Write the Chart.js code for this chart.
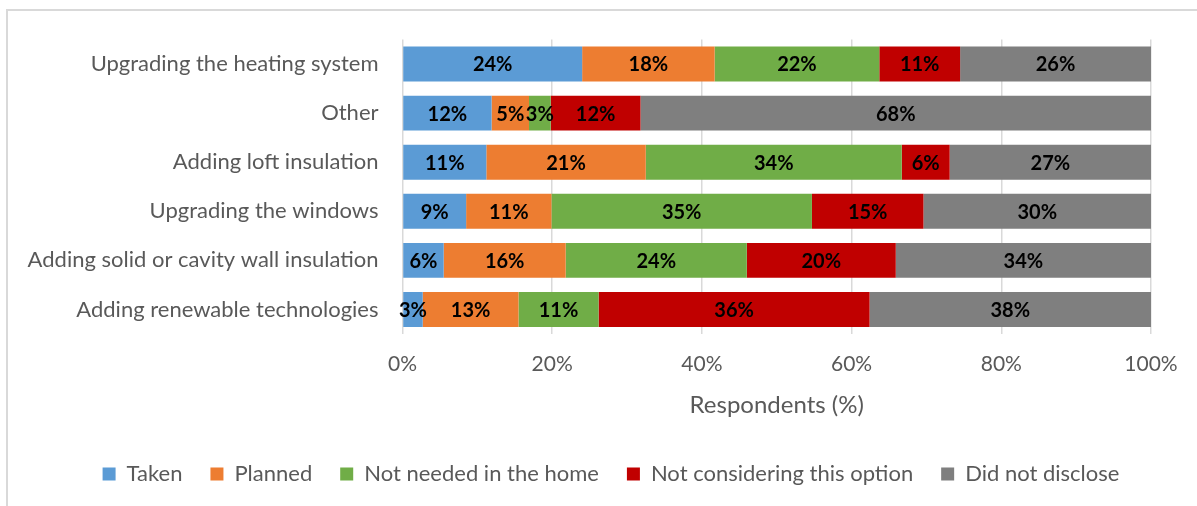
<!DOCTYPE html>
<html>
<head>
<meta charset="utf-8">
<title>Energy efficiency measures</title>
<script src="https://cdn.jsdelivr.net/npm/chart.js@4.4.0/dist/chart.umd.min.js"></script>
<style>
    html, body { margin: 0; padding: 0; background: #fff; }
    #wrap { position: relative; width: 1197px; height: 506px; }
</style>
</head>
<body>
<div id="wrap"><canvas id="measuresChart"></canvas></div>
<script>
// Measures, top to bottom
const measures = [
    'Upgrading the heating system',
    'Other',
    'Adding loft insulation',
    'Upgrading the windows',
    'Adding solid or cavity wall insulation',
    'Adding renewable technologies'
];

// Share of respondents (%) per answer
const taken          = [24.0, 11.9, 11.2,  8.5,  5.5,  2.7];
const planned        = [17.7,  5.0, 21.3, 11.4, 16.3, 12.8];
const notNeeded      = [22.0,  2.9, 34.2, 34.8, 24.2, 10.7];
const notConsidering = [10.8, 12.0,  6.4, 14.9, 19.9, 36.2];
const notDisclosed   = [25.5, 68.2, 26.9, 30.4, 34.1, 37.6];

const xTicks = [0, 20, 40, 60, 80, 100];

const FONT = 'Lato, "Open Sans", sans-serif';
const GREY_TEXT = '#595959';
const GRID = '#d9d9d9';

// Outer frame round the whole chart
const framePlugin = {
    id: 'frame',
    beforeDraw(chart) {
        const ctx = chart.ctx;
        ctx.save();
        ctx.strokeStyle = GRID;
        ctx.lineWidth = 2;
        ctx.strokeRect(7, 10, chart.width + 20, chart.height + 20);
        ctx.restore();
    }
};

// Legend sits centred on the frame, not on the plot
const legendShift = {
    id: 'legendShift',
    afterLayout(chart) {
        if (!chart.legend) return;
        chart.legend.left += 35.5;
        chart.legend.right += 35.5;
    }
};

// Percentage labels in the middle of every segment
const valueLabels = {
    id: 'valueLabels',
    afterDatasetsDraw(chart) {
        const ctx = chart.ctx;
        ctx.save();
        ctx.font = 'bold 20px ' + FONT;
        ctx.fillStyle = '#000';
        ctx.textAlign = 'center';
        ctx.textBaseline = 'middle';
        chart.data.datasets.forEach((ds, i) => {
            const meta = chart.getDatasetMeta(i);
            meta.data.forEach((bar, j) => {
                const v = ds.data[j];
                const cx = (bar.x + bar.base) / 2;
                ctx.fillText(Math.round(v) + '%', cx, bar.y + 1);
            });
        });
        ctx.restore();
    }
};

function series(label, data, color) {
    return {
        label: label,
        data: data,
        backgroundColor: color,
        borderWidth: 0,
        barPercentage: 0.71,
        categoryPercentage: 1
    };
}

const ctx = document.getElementById('measuresChart').getContext('2d');
const chart = new Chart(ctx, {
    type: 'bar',
    data: {
        labels: measures,
        datasets: [
            series('Taken', taken, '#5b9bd5'),
            series('Planned', planned, '#ed7d31'),
            series('Not needed in the home', notNeeded, '#70ad47'),
            series('Not considering this option', notConsidering, '#c00000'),
            series('Did not disclose', notDisclosed, '#7f7f7f')
        ]
    },
    options: {
        indexAxis: 'y',
        responsive: true,
        maintainAspectRatio: false,
        animation: false,
        layout: {
            padding: { top: 39.5, right: 46, bottom: 11, left: 0 }
        },
        plugins: {
            legend: {
                position: 'bottom',
                labels: {
                    color: GREY_TEXT,
                    font: { family: FONT, size: 22 },
                    boxWidth: 13,
                    boxHeight: 13,
                    padding: 28
                }
            },
            tooltip: { enabled: false }
        },
        scales: {
            x: {
                stacked: true,
                min: 0,
                max: 100,
                afterBuildTicks(axis) {
                    axis.ticks = xTicks.map(v => ({ value: v }));
                },
                afterFit(axis) { axis.height = 101; },
                grid: { color: GRID, lineWidth: 1.5, drawTicks: false },
                border: { display: false },
                ticks: {
                    color: GREY_TEXT,
                    font: { family: FONT, size: 21 },
                    padding: 18,
                    callback: v => v + '%'
                },
                title: {
                    display: true,
                    text: 'Respondents (%)',
                    color: GREY_TEXT,
                    font: { family: FONT, size: 24 },
                    padding: { top: 0, bottom: 15.6 }
                }
            },
            y: {
                stacked: true,
                afterFit(axis) { axis.width = 402.5; },
                grid: { display: false, drawTicks: false },
                border: { display: false },
                ticks: {
                    color: GREY_TEXT,
                    font: { family: FONT, size: 22 },
                    padding: 24
                }
            }
        }
    },
    plugins: [framePlugin, legendShift, valueLabels]
});
</script>
</body>
</html>
